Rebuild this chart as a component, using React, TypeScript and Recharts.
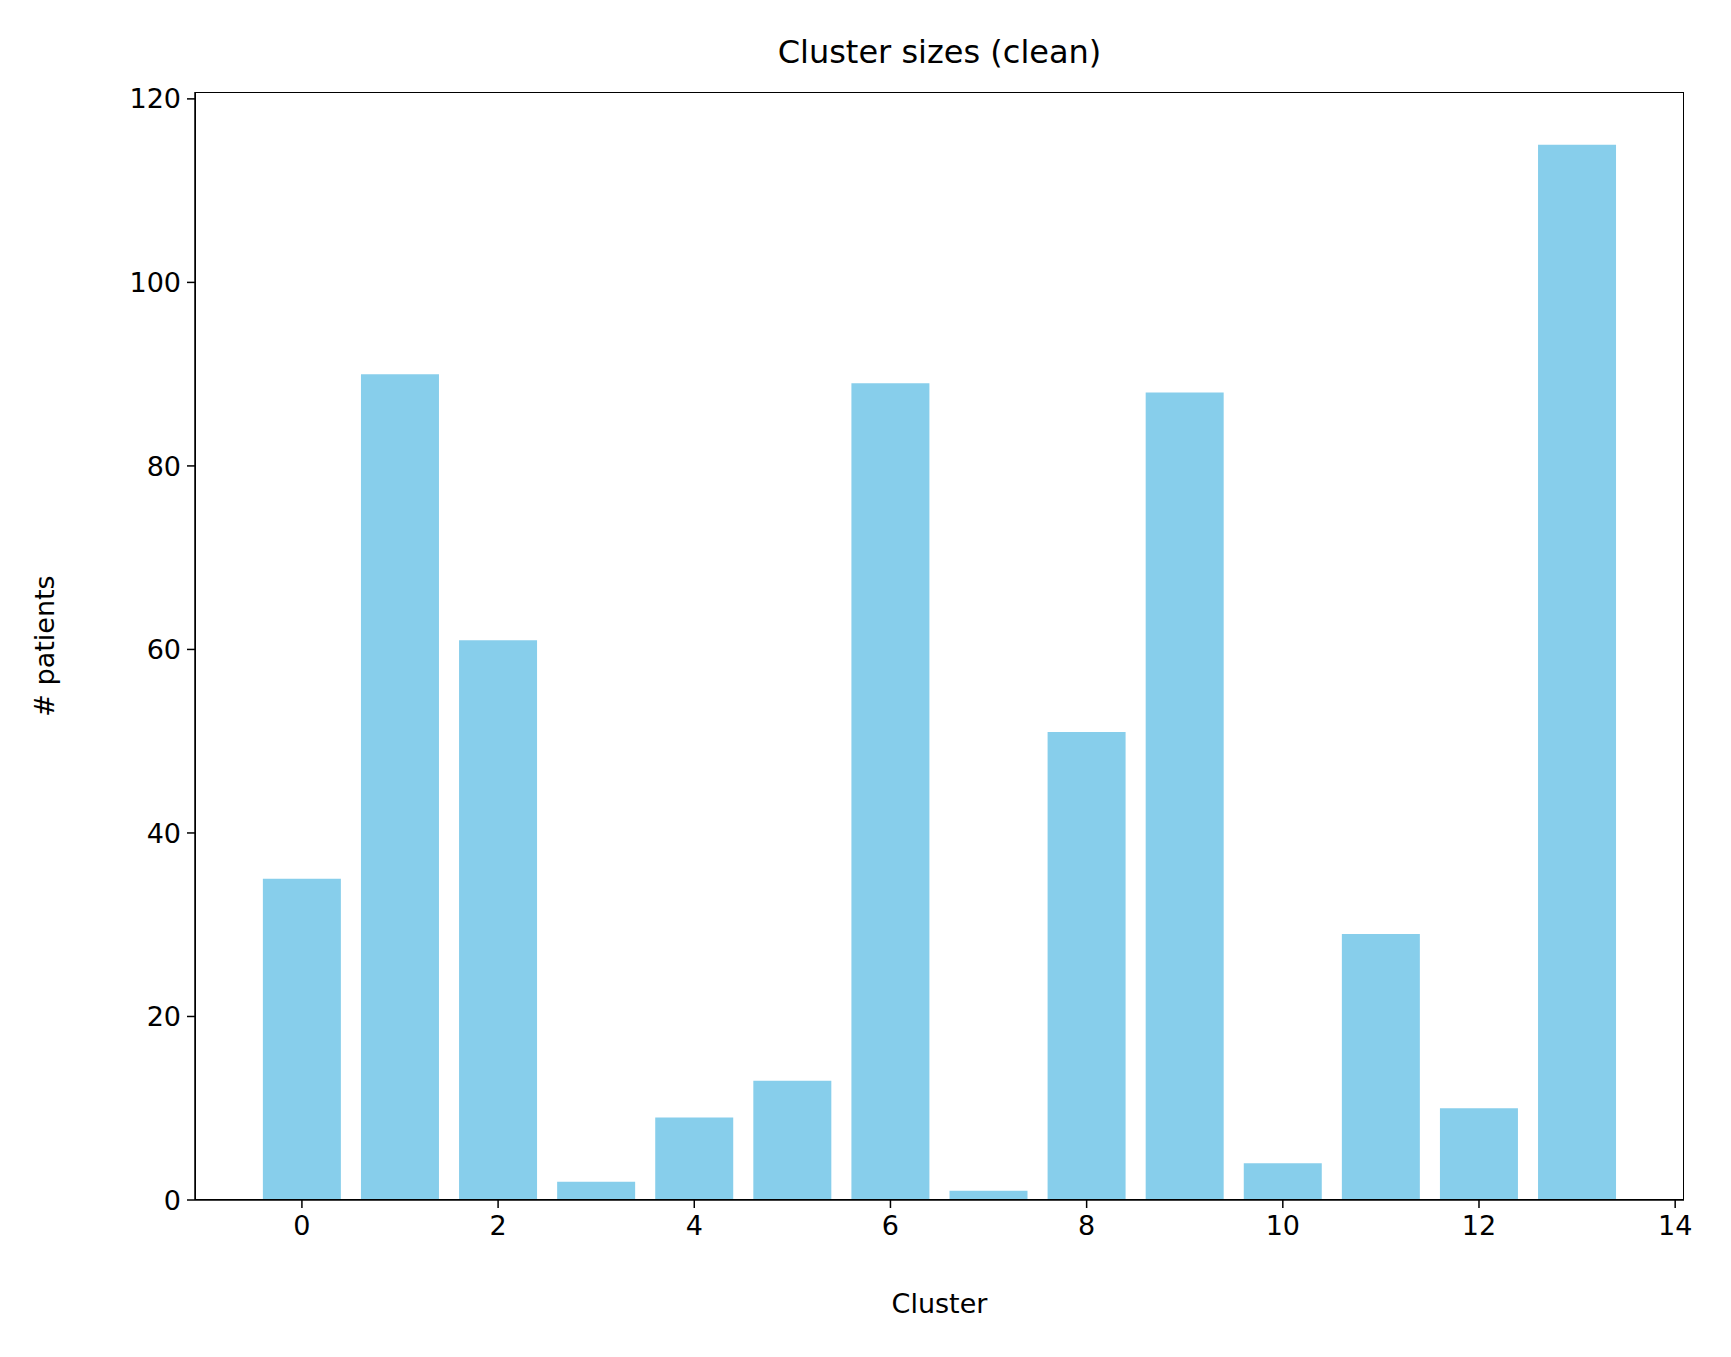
import { BarChart, Bar, XAxis, YAxis } from 'recharts';

const clusters = [0, 1, 2, 3, 4, 5, 6, 7, 8, 9, 10, 11, 12, 13];
const patients = [35, 90, 61, 2, 9, 13, 89, 1, 51, 88, 4, 29, 10, 115];
const xTicks = [0, 2, 4, 6, 8, 10, 12, 14];
const yTicks = [0, 20, 40, 60, 80, 100, 120];

const data = clusters.map((c, i) => ({ cluster: c, patients: patients[i] }));

const font = 'DejaVu Sans, sans-serif';
const tickStyle = { fontSize: 27, fill: '#000', fontFamily: font };

export default function App() {
  return (
    <div style={{ position: 'absolute', left: 0, top: 0, width: 1731, height: 1357, background: '#fff' }}>
      <div
        style={{
          position: 'absolute', top: 30, left: 195, width: 1489, textAlign: 'center',
          fontFamily: font, fontSize: 32, lineHeight: '44px',
        }}
      >
        Cluster sizes (clean)
      </div>
      <BarChart
        width={1731}
        height={1357}
        data={data}
        margin={{ top: 92, right: 47, left: 0, bottom: 0 }}
        barCategoryGap={0}
      >
        <XAxis
          dataKey="cluster"
          type="number"
          domain={[-1.09, 14.09]}
          ticks={xTicks}
          allowDataOverflow
          height={157}
          tick={tickStyle}
          tickSize={8}
          tickMargin={8}
          stroke="#000"
          strokeWidth={1.5}
          label={{ value: 'Cluster', position: 'insideTop', offset: 94, style: tickStyle }}
        />
        <YAxis
          domain={[0, 120.75]}
          ticks={yTicks}
          allowDataOverflow
          width={195}
          tick={tickStyle}
          tickSize={8}
          tickMargin={6}
          stroke="#000"
          strokeWidth={1.5}
          label={{ value: '# patients', angle: -90, position: 'insideLeft', offset: 44, style: { ...tickStyle, textAnchor: 'middle' } }}
        />
        <Bar dataKey="patients" fill="#87CEEB" barSize={78} isAnimationActive={false} />
      </BarChart>
      <div
        style={{
          position: 'absolute', left: 195, top: 92, width: 1489, height: 1108,
          border: '1.5px solid #000', boxSizing: 'border-box', pointerEvents: 'none',
        }}
      />
    </div>
  );
}
